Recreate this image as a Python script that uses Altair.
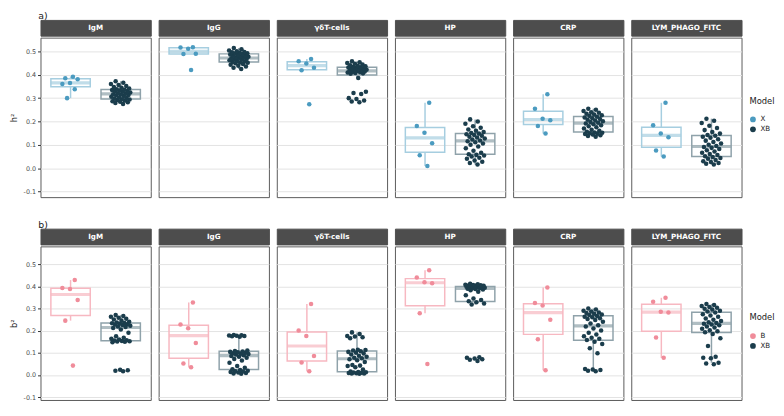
import altair as alt
import pandas as pd

variables = ["IgM", "IgG", "γδT-cells", "HP", "CRP", "LYM_PHAGO_FITC"]
y_ticks = [-0.1, 0.0, 0.1, 0.2, 0.3, 0.4, 0.5]

# ---- row a) h2 : model X ----
a_X_IgM = [0.392, 0.385, 0.381, 0.365, 0.360, 0.338, 0.300]
a_X_IgG = [0.420, 0.489, 0.490, 0.511, 0.517, 0.518]
a_X_gd = [0.274, 0.419, 0.430, 0.448, 0.458, 0.468]
a_X_HP = [0.009, 0.055, 0.107, 0.152, 0.181, 0.280]
a_X_CRP = [0.149, 0.181, 0.205, 0.212, 0.254, 0.317]
a_X_LYM = [0.050, 0.076, 0.132, 0.149, 0.184, 0.280]

# ---- row a) h2 : model XB ----
a_XB_IgM = [0.275, 0.279, 0.282, 0.285, 0.287, 0.290, 0.292, 0.294, 0.295,
            0.297, 0.300, 0.303, 0.306, 0.309, 0.311, 0.313, 0.315, 0.317,
            0.319, 0.321, 0.324, 0.327, 0.329, 0.331, 0.333, 0.335, 0.336,
            0.338, 0.341, 0.344, 0.348, 0.352, 0.356, 0.360, 0.366, 0.372]
a_XB_IgG = [0.425, 0.430, 0.435, 0.439, 0.443, 0.446, 0.449, 0.451, 0.453,
            0.455, 0.457, 0.459, 0.462, 0.464, 0.466, 0.468, 0.470, 0.471,
            0.473, 0.475, 0.477, 0.479, 0.481, 0.483, 0.485, 0.487, 0.489,
            0.491, 0.492, 0.494, 0.496, 0.498, 0.501, 0.504, 0.509, 0.515]
a_XB_gd = [0.282, 0.286, 0.290, 0.296, 0.300, 0.318, 0.322, 0.327, 0.386,
           0.404, 0.406, 0.408, 0.410, 0.411, 0.412, 0.414, 0.415, 0.416,
           0.418, 0.420, 0.422, 0.424, 0.426, 0.428, 0.430, 0.431, 0.432,
           0.434, 0.436, 0.438, 0.441, 0.444, 0.447, 0.450, 0.454, 0.458]
a_XB_HP = [0.016, 0.022, 0.028, 0.033, 0.040, 0.045, 0.050, 0.054, 0.057,
           0.060, 0.066, 0.075, 0.085, 0.093, 0.100, 0.106, 0.111, 0.115,
           0.119, 0.123, 0.127, 0.131, 0.135, 0.139, 0.142, 0.145, 0.148,
           0.151, 0.155, 0.160, 0.166, 0.173, 0.180, 0.190, 0.200, 0.209]
a_XB_CRP = [0.135, 0.138, 0.141, 0.144, 0.146, 0.148, 0.150, 0.152, 0.153,
            0.156, 0.160, 0.165, 0.170, 0.175, 0.180, 0.184, 0.188, 0.191,
            0.195, 0.198, 0.201, 0.204, 0.207, 0.211, 0.214, 0.217, 0.220,
            0.224, 0.227, 0.230, 0.233, 0.237, 0.240, 0.245, 0.250, 0.255]
a_XB_LYM = [0.016, 0.019, 0.022, 0.026, 0.030, 0.035, 0.040, 0.044, 0.048,
            0.051, 0.056, 0.061, 0.066, 0.071, 0.077, 0.082, 0.087, 0.091,
            0.095, 0.100, 0.106, 0.112, 0.118, 0.124, 0.130, 0.135, 0.139,
            0.142, 0.148, 0.155, 0.163, 0.172, 0.182, 0.193, 0.203, 0.212]

# ---- row b) b2 : model B ----
b_B_IgM = [0.042, 0.245, 0.338, 0.388, 0.392, 0.428]
b_B_IgG = [0.035, 0.052, 0.144, 0.211, 0.228, 0.327]
b_B_gd = [0.017, 0.056, 0.085, 0.176, 0.200, 0.320]
b_B_HP = [0.049, 0.278, 0.414, 0.418, 0.440, 0.472]
b_B_CRP = [0.021, 0.161, 0.249, 0.313, 0.324, 0.394]
b_B_LYM = [0.077, 0.169, 0.282, 0.285, 0.330, 0.348]

# ---- row b) b2 : model XB ----
b_XB_IgM = [0.017, 0.019, 0.021, 0.023, 0.148, 0.150, 0.151, 0.152, 0.153,
            0.155, 0.157, 0.160, 0.163, 0.168, 0.175, 0.190, 0.205, 0.212,
            0.216, 0.219, 0.222, 0.225, 0.227, 0.229, 0.231, 0.233, 0.234,
            0.237, 0.240, 0.245, 0.250, 0.254, 0.258, 0.262, 0.266, 0.270]
b_XB_IgG = [0.005, 0.007, 0.009, 0.011, 0.013, 0.015, 0.017, 0.019, 0.022,
            0.026, 0.032, 0.040, 0.055, 0.065, 0.072, 0.078, 0.082, 0.085,
            0.089, 0.092, 0.094, 0.096, 0.098, 0.100, 0.102, 0.104, 0.106,
            0.108, 0.110, 0.172, 0.174, 0.176, 0.177, 0.178, 0.179, 0.180]
b_XB_gd = [0.005, 0.006, 0.007, 0.008, 0.009, 0.010, 0.011, 0.012, 0.013,
           0.015, 0.025, 0.035, 0.040, 0.042, 0.045, 0.058, 0.066, 0.071,
           0.075, 0.078, 0.082, 0.087, 0.092, 0.097, 0.100, 0.104, 0.107,
           0.110, 0.112, 0.114, 0.166, 0.170, 0.173, 0.176, 0.185, 0.192]
b_XB_HP = [0.063, 0.068, 0.071, 0.074, 0.077, 0.080, 0.318, 0.322, 0.328,
           0.332, 0.338, 0.345, 0.360, 0.375, 0.382, 0.386, 0.388, 0.389,
           0.391, 0.392, 0.393, 0.394, 0.395, 0.396, 0.397, 0.398, 0.399,
           0.401, 0.402, 0.403, 0.404, 0.405, 0.406, 0.407, 0.409, 0.411]
b_XB_CRP = [0.017, 0.019, 0.022, 0.025, 0.027, 0.098, 0.120, 0.140, 0.150,
            0.158, 0.163, 0.168, 0.175, 0.182, 0.190, 0.200, 0.210, 0.218,
            0.224, 0.232, 0.240, 0.248, 0.252, 0.256, 0.260, 0.263, 0.266,
            0.270, 0.273, 0.276, 0.279, 0.282, 0.286, 0.290, 0.295, 0.300]
b_XB_LYM = [0.048, 0.052, 0.055, 0.075, 0.078, 0.082, 0.130, 0.165, 0.185,
            0.193, 0.197, 0.202, 0.208, 0.214, 0.219, 0.224, 0.228, 0.231,
            0.234, 0.238, 0.243, 0.249, 0.255, 0.262, 0.268, 0.274, 0.282,
            0.286, 0.290, 0.295, 0.299, 0.303, 0.307, 0.311, 0.315, 0.320]

row_a_first = [a_X_IgM, a_X_IgG, a_X_gd, a_X_HP, a_X_CRP, a_X_LYM]
row_a_second = [a_XB_IgM, a_XB_IgG, a_XB_gd, a_XB_HP, a_XB_CRP, a_XB_LYM]
row_b_first = [b_B_IgM, b_B_IgG, b_B_gd, b_B_HP, b_B_CRP, b_B_LYM]
row_b_second = [b_XB_IgM, b_XB_IgG, b_XB_gd, b_XB_HP, b_XB_CRP, b_XB_LYM]


def build_df(first_lists, second_lists, m1, m2):
    recs = []
    for v, l1, l2 in zip(variables, first_lists, second_lists):
        for val in l1:
            recs.append({"var": v, "model": m1, "pos": 1, "value": val})
        for val in l2:
            recs.append({"var": v, "model": m2, "pos": 2, "value": val})
    return pd.DataFrame(recs)


df_a = build_df(row_a_first, row_a_second, "X", "XB")
df_b = build_df(row_b_first, row_b_second, "B", "XB")

PW = 112
STRIP_H = 16
FONT = "DejaVu Sans"


def panel(df, var, models, pt_colors, box_colors, first, last, ytitle,
          domain, height, legend_y):
    if first:
        axis = alt.Axis(values=y_ticks,
                        labelExpr="replace(format(datum.value, '.1f'), '\u2212', '-')",
                        tickSize=3, tickColor="#333333", labelPadding=2,
                        labelFontSize=6.5, labelColor="#4d4d4d", labelFont=FONT,
                        domain=False, grid=True, gridColor="#e3e3e3",
                        title=ytitle, titleFontSize=8.5, titleFontWeight="normal",
                        titleColor="#1a1a1a", titlePadding=5, titleFont=FONT)
    else:
        axis = alt.Axis(values=y_ticks, labels=False, ticks=False, domain=False,
                        grid=True, gridColor="#e3e3e3", title=None)
    yenc = alt.Y("value:Q", scale=alt.Scale(domain=domain, nice=False, zero=False),
                 axis=axis)
    base = alt.Chart(df).transform_filter(alt.datum["var"] == var)
    xbox = alt.X("model:N", scale=alt.Scale(type="point", padding=0.6, domain=models),
                 axis=None)
    boxes = []
    for m, c in zip(models, box_colors):
        boxes.append(base.transform_filter(alt.datum.model == m).mark_boxplot(
            size=40, extent=1.5, outliers=False,
            box={"fill": "white", "fillOpacity": 0, "stroke": c, "strokeWidth": 1.5},
            median={"color": c, "thickness": 3.2},
            rule={"color": c, "strokeWidth": 1.5},
        ).encode(x=xbox, y=yenc))
    if last:
        leg = alt.Legend(title="Model", orient="none", legendX=PW + 8,
                         legendY=legend_y, titleFontSize=8.5, titleFontWeight="normal",
                         titleColor="#1a1a1a", titleFont=FONT, labelFont=FONT,
                         labelFontSize=7.2, labelColor="#1a1a1a", symbolType="circle",
                         symbolSize=34, symbolStrokeWidth=0, rowPadding=2,
                         titlePadding=11, labelOffset=4)
    else:
        leg = None
    pts = base.transform_window(
        rn="row_number()", groupby=["model"]
    ).transform_calculate(
        jx="datum.pos + ((datum.rn * 0.618034) % 1 - 0.5) * 0.4"
    ).mark_circle(size=21, opacity=1).encode(
        x=alt.X("jx:Q", scale=alt.Scale(domain=[0.4, 2.6], nice=False, zero=False),
                axis=None),
        y=yenc,
        color=alt.Color("model:N", scale=alt.Scale(domain=models, range=pt_colors),
                        legend=leg),
    )
    plot = alt.layer(*boxes, pts).resolve_scale(x="independent") \
        .properties(width=PW, height=height)
    strip = alt.Chart(pd.DataFrame({"t": [var]})).mark_text(
        color="white", fontWeight="bold", fontSize=7.3, font=FONT
    ).encode(text="t:N").properties(
        width=PW, height=STRIP_H,
        view=alt.ViewBackground(fill="#4d4d4d", stroke="#4d4d4d"))
    return alt.vconcat(strip, plot, spacing=0).resolve_scale(color="independent")


def row(df, models, pt_colors, box_colors, ytitle, label, domain, height, legend_y):
    cols = [panel(df, v, models, pt_colors, box_colors, i == 0, i == 5, ytitle,
                  domain, height, legend_y) for i, v in enumerate(variables)]
    return alt.hconcat(*cols, spacing=6).resolve_scale(color="independent").properties(
        title=alt.TitleParams(label, anchor="start", fontSize=9.5, fontWeight="normal",
                              font=FONT, color="#1a1a1a", offset=-1, dx=30))


row_a = row(df_a, ["X", "XB"], ["#4b9bc0", "#1b3d4c"], ["#a6cee0", "#8fa2aa"],
            "h²", "a)", [-0.124, 0.559], 162, 60)
row_b = row(df_b, ["B", "XB"], ["#f08c9a", "#1b3d4c"], ["#f7b8c1", "#8fa2aa"],
            "b²", "b)", [-0.113, 0.58], 156, 68)

chart = alt.vconcat(row_a, row_b, spacing=22).resolve_scale(color="independent") \
    .properties(padding=0, background="white") \
    .configure(font=FONT) \
    .configure_view(stroke="#5a5a5a", strokeWidth=1)

chart.save("out.html", embed_options={"renderer": "svg", "actions": False})
